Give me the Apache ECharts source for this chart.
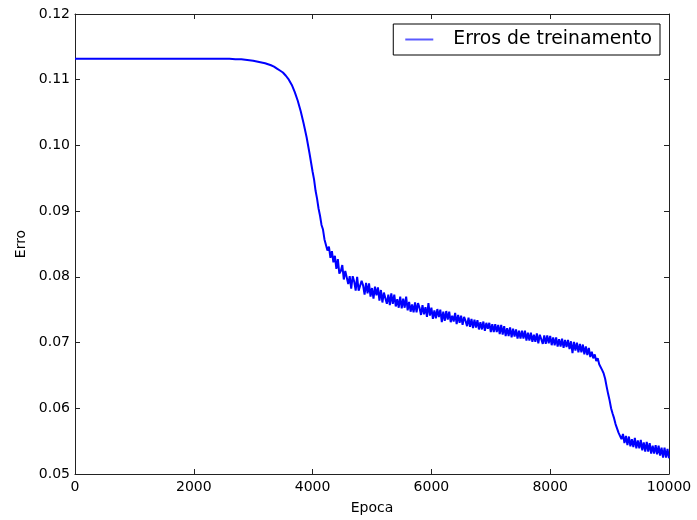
<!DOCTYPE html>
<html>
<head>
<meta charset="utf-8">
<script src="https://cdn.jsdelivr.net/npm/echarts@6/dist/echarts.min.js"></script>
<style>
html,body{margin:0;padding:0;background:#fff;}
#chart{width:697px;height:520px;}
</style>
</head>
<body>
<div id="chart"></div>
<script>
var seriesName = 'Erros de treinamento';
var xTicks = [0, 2000, 4000, 6000, 8000, 10000];
var yTicks = [0.05, 0.06, 0.07, 0.08, 0.09, 0.10, 0.11, 0.12];

var epochs = [
  0, 500, 1000, 1500, 2000, 2500, 2600, 2700, 2800, 2900, 3000, 3100, 3200,
  3300, 3350, 3400, 3450, 3500, 3550, 3600, 3650, 3700, 3750, 3800, 3850, 3900, 3950,
  4000, 4025, 4050, 4075, 4100, 4125, 4150, 4175, 4200, 4225,
  4250, 4275, 4300, 4325, 4350, 4375, 4400, 4425, 4450, 4475,
  4500, 4525, 4550, 4575, 4600, 4625, 4650, 4675, 4700, 4725,
  4750, 4775, 4800, 4825, 4850, 4875, 4900, 4925, 4950, 4975,
  5000, 5025, 5050, 5075, 5100, 5125, 5150, 5175, 5200, 5225,
  5250, 5275, 5300, 5325, 5350, 5375, 5400, 5425, 5450, 5475,
  5500, 5525, 5550, 5575, 5600, 5625, 5650, 5675, 5700, 5725,
  5750, 5775, 5800, 5825, 5850, 5875, 5900, 5925, 5950, 5975,
  6000, 6025, 6050, 6075, 6100, 6125, 6150, 6175, 6200, 6225,
  6250, 6275, 6300, 6325, 6350, 6375, 6400, 6425, 6450, 6475,
  6500, 6525, 6550, 6575, 6600, 6625, 6650, 6675, 6700, 6725,
  6750, 6775, 6800, 6825, 6850, 6875, 6900, 6925, 6950, 6975,
  7000, 7025, 7050, 7075, 7100, 7125, 7150, 7175, 7200, 7225,
  7250, 7275, 7300, 7325, 7350, 7375, 7400, 7425, 7450, 7475,
  7500, 7525, 7550, 7575, 7600, 7625, 7650, 7675, 7700, 7725,
  7750, 7775, 7800, 7825, 7850, 7875, 7900, 7925, 7950, 7975,
  8000, 8025, 8050, 8075, 8100, 8125, 8150, 8175, 8200, 8225,
  8250, 8275, 8300, 8325, 8350, 8375, 8400, 8425, 8450, 8475,
  8500, 8525, 8550, 8575, 8600, 8625, 8650, 8675, 8700, 8725,
  8750, 8775, 8800, 8825, 8850, 8875, 8900, 8925, 8950, 8975,
  9000, 9025, 9050, 9075, 9100, 9125, 9150, 9175, 9200, 9225,
  9250, 9275, 9300, 9325, 9350, 9375, 9400, 9425, 9450, 9475,
  9500, 9525, 9550, 9575, 9600, 9625, 9650, 9675, 9700, 9725,
  9750, 9775, 9800, 9825, 9850, 9875, 9900, 9925, 9950, 9975,
  10000
];

var errors = [
  0.1132, 0.1132, 0.1132, 0.1132, 0.1132, 0.1132, 0.1132, 0.1131, 0.1131, 0.1130, 0.1129, 0.1127, 0.1125,
  0.1122, 0.1120, 0.1117, 0.1114, 0.1111, 0.1106, 0.1100, 0.1092, 0.1081, 0.1068, 0.1052, 0.1033, 0.1012, 0.0987,
  0.0960, 0.0948, 0.0931, 0.0919, 0.0904, 0.0893, 0.0879, 0.0872, 0.0857, 0.0857,
  0.0840, 0.0846, 0.0829, 0.0839, 0.0822, 0.0832, 0.0812, 0.0827, 0.0805, 0.0809,
  0.0818, 0.0796, 0.0809, 0.0811, 0.0789, 0.0801, 0.0782, 0.0801, 0.0793, 0.0779,
  0.0800, 0.0779, 0.0776, 0.0794, 0.0787, 0.0773, 0.0791, 0.0775, 0.0790, 0.0770,
  0.0783, 0.0767, 0.0785, 0.0772, 0.0784, 0.0764, 0.0780, 0.0761, 0.0776, 0.0779,
  0.0759, 0.0773, 0.0757, 0.0775, 0.0759, 0.0773, 0.0755, 0.0766, 0.0753, 0.0770,
  0.0752, 0.0767, 0.0753, 0.0770, 0.0749, 0.0762, 0.0747, 0.0758, 0.0746, 0.0761,
  0.0746, 0.0760, 0.0753, 0.0742, 0.0757, 0.0743, 0.0754, 0.0739, 0.0760, 0.0741,
  0.0753, 0.0736, 0.0749, 0.0737, 0.0751, 0.0739, 0.0750, 0.0731, 0.0747, 0.0733,
  0.0748, 0.0735, 0.0747, 0.0731, 0.0741, 0.0732, 0.0745, 0.0728, 0.0742, 0.0730,
  0.0741, 0.0727, 0.0739, 0.0733, 0.0725, 0.0738, 0.0724, 0.0736, 0.0722, 0.0735,
  0.0723, 0.0734, 0.0720, 0.0731, 0.0720, 0.0732, 0.0718, 0.0730, 0.0721, 0.0730,
  0.0716, 0.0728, 0.0716, 0.0728, 0.0716, 0.0727, 0.0713, 0.0727, 0.0712, 0.0725,
  0.0710, 0.0722, 0.0710, 0.0723, 0.0708, 0.0721, 0.0709, 0.0720, 0.0706, 0.0718,
  0.0706, 0.0718, 0.0706, 0.0718, 0.0703, 0.0715, 0.0703, 0.0715, 0.0701, 0.0712,
  0.0701, 0.0714, 0.0699, 0.0712, 0.0714, 0.0698, 0.0711, 0.0698, 0.0711, 0.0699,
  0.0710, 0.0696, 0.0708, 0.0696, 0.0708, 0.0694, 0.0705, 0.0694, 0.0706, 0.0692,
  0.0704, 0.0693, 0.0704, 0.0690, 0.0702, 0.0684, 0.0701, 0.0688, 0.0700, 0.0685,
  0.0698, 0.0685, 0.0697, 0.0682, 0.0694, 0.0681, 0.0692, 0.0678, 0.0686, 0.0676,
  0.0682, 0.0672, 0.0676, 0.0667, 0.0668, 0.0658, 0.0653, 0.0645, 0.0633, 0.0622,
  0.0612, 0.0600, 0.0592, 0.0585, 0.0576, 0.0573, 0.0563, 0.0566, 0.0553, 0.0561,
  0.0547, 0.0558, 0.0544, 0.0557, 0.0542, 0.0553, 0.0541, 0.0555, 0.0539, 0.0551,
  0.0539, 0.0552, 0.0536, 0.0548, 0.0534, 0.0549, 0.0534, 0.0547, 0.0531, 0.0543,
  0.0531, 0.0544, 0.0530, 0.0543, 0.0528, 0.0540, 0.0525, 0.0540, 0.0525, 0.0538,
  0.0524
];

var points = epochs.map(function (e, i) { return [e, errors[i]]; });

var FONT = 'DejaVu Sans';
var axisColor = '#222';

function fmtY(v) { return v.toFixed(2); }
function fmtX(v) { return String(Math.round(v)); }

var chart = echarts.init(document.getElementById('chart'), null, {renderer: 'canvas'});
chart.setOption({
  animation: false,
  backgroundColor: '#fff',
  textStyle: {fontFamily: FONT},
  grid: {left: 75, right: 28, top: 14, bottom: 46, containLabel: false, outerBoundsMode: 'none'},
  legend: {
    data: [seriesName],
    right: 37,
    top: 24,
    height: 33,
    padding: [6, 8, 6, 12],
    borderColor: '#000',
    borderWidth: 1,
    borderRadius: 0,
    backgroundColor: '#fff',
    itemWidth: 28,
    itemHeight: 2,
    itemGap: 0,
    icon: 'rect',
    itemStyle: {color: '#5a5aff', borderWidth: 0},
    textStyle: {fontFamily: FONT, fontSize: 18.8, color: '#000', padding: [0, 0, 0, 15]}
  },
  xAxis: [{
    type: 'value', min: xTicks[0], max: xTicks[xTicks.length - 1], interval: 2000,
    position: 'bottom',
    name: 'Epoca', nameLocation: 'middle', nameGap: 27,
    nameTextStyle: {fontFamily: FONT, fontSize: 14, color: '#000'},
    axisLine: {show: true, onZero: false, lineStyle: {color: axisColor, width: 1}},
    axisTick: {show: true, inside: true, length: 5, lineStyle: {color: axisColor}},
    axisLabel: {fontFamily: FONT, fontSize: 14, color: '#000', margin: 6, formatter: fmtX},
    splitLine: {show: false}
  }, {
    type: 'value', min: xTicks[0], max: xTicks[xTicks.length - 1], interval: 2000,
    position: 'top',
    axisLine: {show: true, onZero: false, lineStyle: {color: axisColor, width: 1}},
    axisTick: {show: true, inside: true, length: 5, lineStyle: {color: axisColor}},
    axisLabel: {show: false},
    splitLine: {show: false}
  }],
  yAxis: [{
    type: 'value', min: yTicks[0], max: yTicks[yTicks.length - 1], interval: 0.01,
    position: 'left',
    name: 'Erro', nameLocation: 'middle', nameGap: 47, nameRotate: 90,
    nameTextStyle: {fontFamily: FONT, fontSize: 14, color: '#000'},
    axisLine: {show: true, onZero: false, lineStyle: {color: axisColor, width: 1}},
    axisTick: {show: true, inside: true, length: 5, lineStyle: {color: axisColor}},
    axisLabel: {fontFamily: FONT, fontSize: 14, color: '#000', margin: 5, formatter: fmtY},
    splitLine: {show: false}
  }, {
    type: 'value', min: yTicks[0], max: yTicks[yTicks.length - 1], interval: 0.01,
    position: 'right',
    axisLine: {show: true, onZero: false, lineStyle: {color: axisColor, width: 1}},
    axisTick: {show: true, inside: true, length: 5, lineStyle: {color: axisColor}},
    axisLabel: {show: false},
    splitLine: {show: false}
  }],
  series: [{
    name: seriesName,
    type: 'line',
    xAxisIndex: 0,
    yAxisIndex: 0,
    data: points,
    showSymbol: false,
    symbol: 'none',
    lineStyle: {color: '#0000ff', width: 2},
    itemStyle: {color: '#0000ff'},
    emphasis: {disabled: true}
  }]
});
</script>
</body>
</html>
